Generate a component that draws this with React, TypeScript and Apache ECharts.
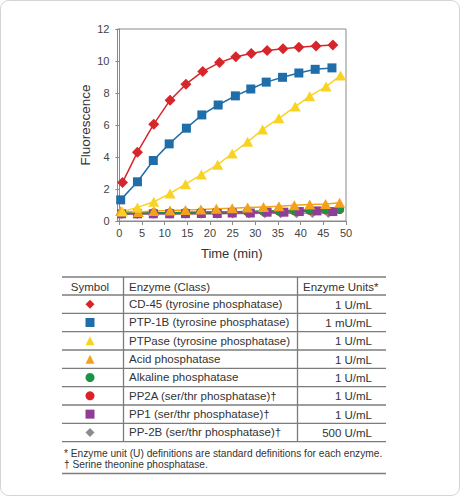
import React, { useEffect, useRef } from "react";
import * as echarts from "echarts";

// ---- Data ----
const enzymeNames = [
  "CD-45 (tyrosine phosphatase)",
  "PTP-1B (tyrosine phosphatase)",
  "PTPase (tyrosine phosphatase)",
  "Acid phosphatase",
  "Alkaline phosphatase",
  "PP2A (ser/thr phosphatase)\u2020",
  "PP1 (ser/thr phosphatase)\u2020",
  "PP-2B (ser/thr phosphatase)\u2020",
];
const enzymeUnits = ["1 U/mL", "1 mU/mL", "1 U/mL", "1 U/mL", "1 U/mL", "1 U/mL", "1 U/mL", "500 U/mL"];
const enzymeSymbols = ["diamond", "rect", "triangle", "triangle", "circle", "circle", "rect", "diamond"];
const enzymeColors = ["#d7262b", "#1f6ea9", "#f9d324", "#f5a11c", "#1b9447", "#dc2228", "#8e3e97", "#8c8c8c"];
const symbolSizes: (number | number[])[] = [[11, 11], 9, [11, 10], [11, 10], 9, 9, 9, [10, 10]];

const xTicks = [0, 5, 10, 15, 20, 25, 30, 35, 40, 45, 50];

const cd45Time = [0.7, 4.0, 7.6, 11.2, 14.7, 18.4, 22.1, 25.7, 29.1, 32.6, 36.1, 39.6, 43.4, 47.1];
const cd45Fluor = [2.4, 4.3, 6.05, 7.55, 8.55, 9.35, 9.9, 10.27, 10.47, 10.65, 10.77, 10.86, 10.93, 11.0];

const ptp1bTime = [0.3, 4.0, 7.5, 11.0, 14.8, 18.2, 21.8, 25.6, 29.0, 32.4, 36.0, 39.6, 43.2, 46.9];
const ptp1bFluor = [1.32, 2.45, 3.78, 4.82, 5.8, 6.63, 7.25, 7.82, 8.25, 8.68, 8.98, 9.25, 9.48, 9.57];

const ptpaseTime = [0.7, 4.0, 7.6, 11.2, 14.6, 18.1, 21.7, 24.9, 28.3, 31.6, 35.2, 38.8, 42.0, 45.6, 48.8];
const ptpaseFluor = [0.6, 0.85, 1.2, 1.72, 2.3, 2.9, 3.52, 4.22, 4.95, 5.72, 6.42, 7.15, 7.8, 8.4, 9.1];

const acidTime = [0.3, 4.2, 7.6, 11.2, 14.6, 18.0, 21.4, 24.9, 28.3, 31.8, 35.2, 38.6, 42.0, 45.5, 48.6];
const acidFluor = [0.62, 0.57, 0.62, 0.65, 0.68, 0.72, 0.76, 0.8, 0.84, 0.88, 0.92, 0.98, 1.03, 1.07, 1.14];

const alkTime = [0.5, 4.1, 7.6, 11.2, 14.6, 18.0, 21.4, 24.9, 28.3, 31.8, 35.2, 38.6, 42.0, 45.5, 48.6];
const alkFluor = [0.5, 0.5, 0.52, 0.52, 0.54, 0.56, 0.57, 0.58, 0.6, 0.62, 0.64, 0.66, 0.7, 0.72, 0.75];

const pp2aTime = [0.5, 4.1, 7.6, 11.2, 14.6, 18.0, 21.4, 24.9, 28.3, 31.8, 35.2, 38.6, 42.0, 45.5, 48.6];
const pp2aFluor = [0.46, 0.48, 0.5, 0.5, 0.52, 0.53, 0.55, 0.56, 0.58, 0.6, 0.62, 0.64, 0.67, 0.7, 0.72];

const pp1Time = [0.5, 4.0, 7.5, 11.1, 14.6, 18.1, 21.6, 24.9, 28.9, 32.6, 36.3, 39.7, 43.6, 47.1];
const pp1Fluor = [0.45, 0.45, 0.45, 0.45, 0.46, 0.47, 0.47, 0.5, 0.5, 0.55, 0.55, 0.59, 0.63, 0.59];

const pp2bTime = [0.5, 4.0, 7.5, 11.1, 14.6, 18.1, 21.6, 25.0, 28.6, 32.1, 35.6, 39.1, 42.6, 46.1];
const pp2bFluor = [0.44, 0.44, 0.45, 0.45, 0.45, 0.46, 0.46, 0.47, 0.47, 0.48, 0.48, 0.49, 0.5, 0.5];

const seriesTimes = [cd45Time, ptp1bTime, ptpaseTime, acidTime, alkTime, pp2aTime, pp1Time, pp2bTime];
const seriesFluor = [cd45Fluor, ptp1bFluor, ptpaseFluor, acidFluor, alkFluor, pp2aFluor, pp1Fluor, pp2bFluor];
// drawing order (bottom -> top)
const drawOrder = [7, 5, 4, 6, 3, 2, 1, 0];

const tableHeaders = ["Symbol", "Enzyme (Class)", "Enzyme Units*"];
const footnotes = [
  "* Enzyme unit (U) definitions are standard definitions for each enzyme.",
  "\u2020 Serine theonine phosphatase.",
];

const FONT = "'Liberation Sans', Arial, Helvetica, sans-serif";

export default function App() {
  const ref = useRef<HTMLDivElement>(null);

  useEffect(() => {
    if (!ref.current) return;
    const chart = echarts.init(ref.current, undefined, { renderer: "svg" });

    // table layout
    const tLeft = 62;
    const tRight = 386;
    const tTop = 277;
    const headBottom = 295;
    const rowH = 18.33;
    const tBottom = headBottom + rowH * enzymeNames.length;
    const col1 = 123.5;
    const col2 = 297.5;
    const lineColor = "#7c7c7c";

    const graphics: any[] = [];
    graphics.push({
      type: "rect",
      shape: { x: 0.5, y: 0.5, width: 459, height: 495, r: 8 },
      style: { fill: "none", stroke: "#d4d4d4", lineWidth: 1 },
      silent: true,
    });
    const hLines = [tTop, headBottom];
    for (let i = 1; i <= enzymeNames.length; i++) hLines.push(headBottom + rowH * i);
    hLines.push(473.5);
    hLines.forEach((y) =>
      graphics.push({
        type: "line",
        shape: { x1: tLeft, y1: y, x2: tRight, y2: y },
        style: { stroke: lineColor, lineWidth: 1.3 },
        silent: true,
      })
    );
    [col1, col2].forEach((x) =>
      graphics.push({
        type: "line",
        shape: { x1: x, y1: tTop, x2: x, y2: tBottom },
        style: { stroke: lineColor, lineWidth: 1.3 },
        silent: true,
      })
    );
    const headY = (tTop + headBottom) / 2 + 0.5;
    const headX = [90, 129, 303];
    const headAlign = ["center", "left", "left"];
    tableHeaders.forEach((t, i) =>
      graphics.push({
        type: "text",
        x: headX[i],
        y: headY,
        style: {
          text: t,
          fill: "#333",
          font: `11.5px ${FONT}`,
          align: headAlign[i],
          verticalAlign: "middle",
        },
        silent: true,
      })
    );
    enzymeUnits.forEach((u, i) =>
      graphics.push({
        type: "text",
        x: 372,
        y: headBottom + rowH * (i + 0.5) + 0.5,
        style: { text: u, fill: "#333", font: `11.5px ${FONT}`, align: "right", verticalAlign: "middle" },
        silent: true,
      })
    );
    footnotes.forEach((t, i) =>
      graphics.push({
        type: "text",
        x: 64,
        y: 453 + i * 11,
        style: { text: t, fill: "#333", font: `10.2px ${FONT}`, align: "left", verticalAlign: "middle" },
        silent: true,
      })
    );

    const series = drawOrder.map((idx) => ({
      name: enzymeNames[idx],
      type: "line",
      data: seriesTimes[idx].map((t, k) => [t, seriesFluor[idx][k]]),
      symbol: enzymeSymbols[idx],
      symbolSize: symbolSizes[idx],
      showAllSymbol: true,
      color: enzymeColors[idx],
      lineStyle: { color: enzymeColors[idx], width: 1.5 },
      itemStyle: { color: enzymeColors[idx] },
      emphasis: { disabled: true },
    }));

    chart.setOption({
      animation: false,
      backgroundColor: "#ffffff",
      textStyle: { fontFamily: FONT },
      grid: {
        left: 117.5,
        top: 29,
        width: 228.5,
        height: 192,
        show: true,
        borderColor: "#8a8a8a",
        borderWidth: 1,
        backgroundColor: "transparent",
      },
      xAxis: {
        type: "value",
        min: -0.4,
        max: 50,
        name: "Time (min)",
        nameLocation: "middle",
        nameGap: 26,
        nameTextStyle: { fontSize: 13, color: "#333", fontFamily: FONT },
        axisLine: { show: true, lineStyle: { color: "#8a8a8a", width: 1 } },
        axisTick: { show: true, length: 4, lineStyle: { color: "#8a8a8a" }, customValues: xTicks },
        axisLabel: { fontSize: 11, color: "#444", margin: 6, customValues: xTicks, fontFamily: FONT },
        splitLine: { show: false },
      },
      yAxis: {
        type: "value",
        min: 0,
        max: 12,
        interval: 2,
        name: "Fluorescence",
        nameLocation: "middle",
        nameGap: 25,
        nameTextStyle: { fontSize: 13.5, color: "#333", fontFamily: FONT },
        axisLine: { show: true, lineStyle: { color: "#8a8a8a", width: 1 } },
        axisTick: { show: true, length: 4, lineStyle: { color: "#8a8a8a" } },
        axisLabel: { fontSize: 11, color: "#444", margin: 8, fontFamily: FONT },
        splitLine: { show: false },
      },
      legend: {
        orient: "vertical",
        left: 85.5,
        top: headBottom,
        padding: 0,
        itemGap: 0,
        itemWidth: 9,
        itemHeight: 9,
        selectedMode: false,
        data: enzymeNames.map((n, i) => ({ name: n, icon: enzymeSymbols[i] })),
        textStyle: {
          fontSize: 11.5,
          color: "#333",
          fontFamily: FONT,
          lineHeight: rowH,
          padding: [0, 0, 0, 29.5],
        },
      },
      graphic: graphics,
      series,
    });

    return () => chart.dispose();
  }, []);

  return (
    <div
      ref={ref}
      style={{ position: "absolute", left: 0, top: 0, width: 460, height: 496, background: "#fff" }}
    />
  );
}
